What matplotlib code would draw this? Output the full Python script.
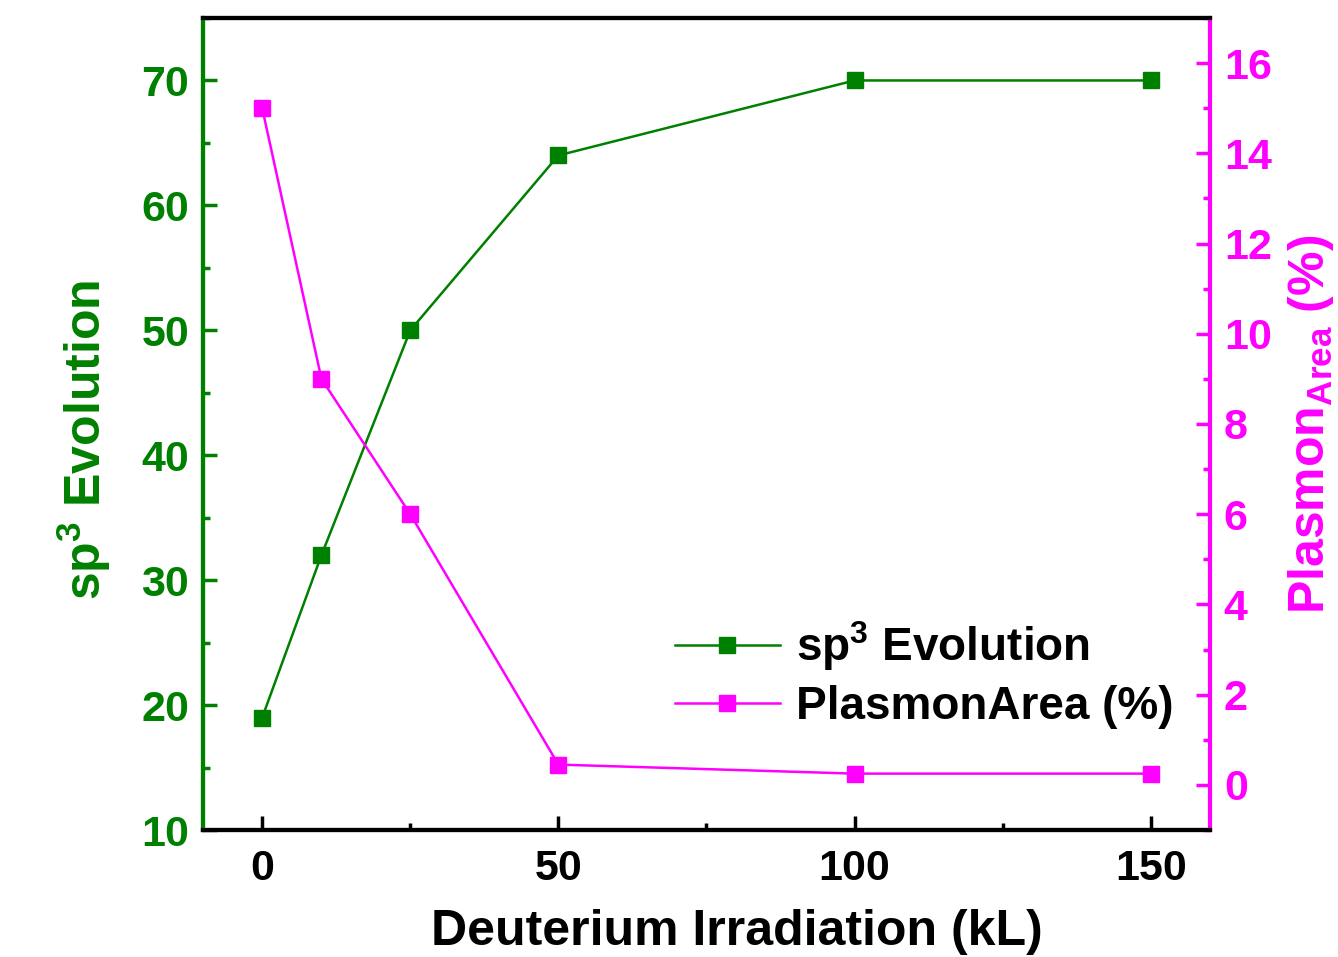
import matplotlib.pyplot as plt
from matplotlib.ticker import MultipleLocator

plt.rcParams['font.family'] = ['Liberation Sans', 'DejaVu Sans']
plt.rcParams['font.weight'] = 'bold'
plt.rcParams['mathtext.fontset'] = 'custom'
plt.rcParams['mathtext.rm'] = 'Liberation Sans:bold'
plt.rcParams['mathtext.bf'] = 'Liberation Sans:bold'
plt.rcParams['mathtext.it'] = 'Liberation Sans:bold'

irradiation = [0, 10, 25, 50, 100, 150]
sp3 = [19, 32, 50, 64, 70, 70]
plasmon = [15, 9, 6, 0.45, 0.25, 0.25]

GREEN = "#008000"
MAGENTA = "#FF00FF"

fig = plt.figure(figsize=(13.38, 9.57), dpi=100)
ax = fig.add_axes([0.1517, 0.1327, 0.7526, 0.8485])
ax2 = ax.twinx()

l1, = ax.plot(irradiation, sp3, "s-", color=GREEN, lw=1.8, ms=11,
              label=r"sp$^{3}$ Evolution")
l2, = ax2.plot(irradiation, plasmon, "s-", color=MAGENTA, lw=1.8, ms=11,
               label="PlasmonArea (%)")

ax.set_xlim(-10, 160)
ax.set_ylim(10, 75)
ax2.set_ylim(-1, 17)

ax.xaxis.set_major_locator(MultipleLocator(50))
ax.xaxis.set_minor_locator(MultipleLocator(25))
ax.yaxis.set_major_locator(MultipleLocator(10))
ax.yaxis.set_minor_locator(MultipleLocator(5))
ax2.yaxis.set_major_locator(MultipleLocator(2))
ax2.yaxis.set_minor_locator(MultipleLocator(1))

for s in ax.spines.values():
    s.set_linewidth(3)
for s in ax2.spines.values():
    s.set_linewidth(3)
ax2.spines["left"].set_color(GREEN)
ax2.spines["right"].set_color(MAGENTA)
ax.spines["left"].set_color(GREEN)
ax.spines["right"].set_visible(False)

ax.tick_params(axis="x", which="both", direction="in", width=2.5, labelsize=31, pad=14)
ax.tick_params(axis="x", which="major", length=10)
ax.tick_params(axis="x", which="minor", length=5)
ax.tick_params(axis="y", which="both", direction="in", width=2.5, colors=GREEN,
               labelsize=31, pad=10)
ax.tick_params(axis="y", which="major", length=10)
ax.tick_params(axis="y", which="minor", length=5)
ax2.tick_params(axis="y", which="both", direction="in", width=2.5, colors=MAGENTA,
                labelsize=31, pad=10)
ax2.tick_params(axis="y", which="major", length=10)
ax2.tick_params(axis="y", which="minor", length=5)
for lab in ax.get_xticklabels() + ax.get_yticklabels() + ax2.get_yticklabels():
    lab.set_fontweight("bold")

ax.set_xlabel("Deuterium Irradiation (kL)", fontsize=36, fontweight="bold", labelpad=14)
ax.xaxis.label.set_x(0.53)
ax.set_ylabel(r"sp$^{3}$ Evolution", fontsize=36, fontweight="bold", color=GREEN,
              labelpad=20)
ax.yaxis.label.set_y(0.48)
ax2.set_ylabel(r"Plasmon$_{\mathrm{Area}}$ (%)", fontsize=36, fontweight="bold",
               color=MAGENTA, labelpad=10)

ax.legend(handles=[l1, l2], loc="lower right", bbox_to_anchor=(1.005, 0.074),
          frameon=False, handlelength=2.3, handletextpad=0.35,
          labelspacing=0.25, prop={"weight": "bold", "size": 33})

fig.savefig("out.png", dpi=100)
